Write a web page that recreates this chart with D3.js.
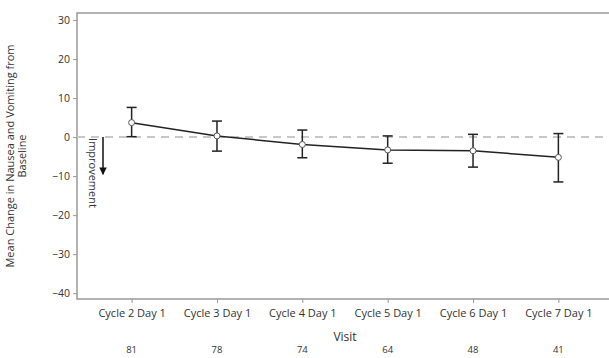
<!DOCTYPE html>
<html>
<head>
<meta charset="utf-8">
<script src="https://cdn.jsdelivr.net/npm/d3@7"></script>
<style>
  html, body { margin: 0; background: #fff; overflow: hidden; }
  text { font-family: 'Open Sans', sans-serif; fill: #333; }
</style>
</head>
<body>
<div class="chart"></div>
<script>
var visits = ['Cycle 2 Day 1', 'Cycle 3 Day 1', 'Cycle 4 Day 1', 'Cycle 5 Day 1', 'Cycle 6 Day 1', 'Cycle 7 Day 1'];
var means = [3.7, 0.3, -1.9, -3.3, -3.5, -5.2];
var upper = [7.6, 4.1, 1.8, 0.3, 0.7, 0.9];
var lower = [0.1, -3.6, -5.3, -6.7, -7.7, -11.5];
var counts = [81, 78, 74, 64, 48, 41];
var yTicks = [30, 20, 10, 0, -10, -20, -30, -40];

var svgWidth = 609;
var svgHeight = 358;
var margin = { top: 13, right: -4, bottom: 59, left: 77 };
var width = svgWidth - margin.left - margin.right;
var height = svgHeight - margin.top - margin.bottom;

var svg = d3.select('.chart')
  .append('svg')
  .attr('width', svgWidth)
  .attr('height', svgHeight)
  .style('display', 'block');

var chart = svg.append('g')
  .attr('transform', 'translate(' + margin.left + ',' + margin.top + ')');

var x = d3.scalePoint().domain(visits).range([0, width]).padding(0.64);
var y = d3.scaleLinear().domain([31.8, -41.5]).range([0, height]);

var data = visits.map(function(v, i) {
  return { visit: v, mean: means[i], hi: upper[i], lo: lower[i], n: counts[i] };
});

// frame (right side runs off the picture)
chart.append('path')
  .attr('d', 'M' + (width + 20) + ',0H0V' + height + 'H' + (width + 20))
  .attr('fill', 'none')
  .attr('stroke', '#999')
  .attr('stroke-width', 1.5);

// zero reference
chart.append('line')
  .attr('x1', 0).attr('x2', width + 20)
  .attr('y1', y(0)).attr('y2', y(0))
  .attr('stroke', '#c8c8c8')
  .attr('stroke-width', 2)
  .attr('stroke-dasharray', '8,6');

var left = d3.axisLeft(y).tickValues(yTicks).tickSize(4).tickPadding(3);
var gy = chart.append('g').call(left);
gy.select('.domain').remove();
gy.selectAll('line').attr('stroke', '#999');
gy.selectAll('text').style('font-size', '10.5px').attr('fill', '#444');

var bottom = d3.axisBottom(x).tickSize(4).tickPadding(6);
var gx = chart.append('g').attr('transform', 'translate(0,' + height + ')').call(bottom);
gx.select('.domain').remove();
gx.selectAll('line').attr('stroke', '#999');
gx.selectAll('text').style('font-size', '11px').attr('fill', '#333');

// counts row
chart.selectAll('.count')
  .data(data)
  .enter()
  .append('text')
  .attr('x', function(d) { return x(d.visit); })
  .attr('y', height + 54)
  .attr('text-anchor', 'middle')
  .style('font-size', '9.5px')
  .text(function(d) { return d.n; });

chart.append('text')
  .attr('x', x('Cycle 4 Day 1') + (x('Cycle 5 Day 1') - x('Cycle 4 Day 1')) / 2)
  .attr('y', height + 42)
  .attr('text-anchor', 'middle')
  .style('font-size', '12px')
  .attr('fill', '#222')
  .text('Visit');

// y title
var yt = svg.append('text')
  .attr('transform', 'translate(0,' + (margin.top + height / 2) + ') rotate(-90)')
  .attr('text-anchor', 'middle')
  .style('font-size', '11px');
yt.append('tspan').attr('x', 0).attr('y', 14).text('Mean Change in Nausea and Vomiting from');
yt.append('tspan').attr('x', 0).attr('y', 26).text('Baseline');

// error bars
var cap = 5;
var bars = chart.selectAll('.err')
  .data(data)
  .enter()
  .append('g')
  .attr('stroke', '#222')
  .attr('stroke-width', 1.5);
bars.append('line')
  .attr('x1', function(d) { return x(d.visit); })
  .attr('x2', function(d) { return x(d.visit); })
  .attr('y1', function(d) { return y(d.hi); })
  .attr('y2', function(d) { return y(d.lo); });
bars.append('line')
  .attr('x1', function(d) { return x(d.visit) - cap; })
  .attr('x2', function(d) { return x(d.visit) + cap; })
  .attr('y1', function(d) { return y(d.hi); })
  .attr('y2', function(d) { return y(d.hi); });
bars.append('line')
  .attr('x1', function(d) { return x(d.visit) - cap; })
  .attr('x2', function(d) { return x(d.visit) + cap; })
  .attr('y1', function(d) { return y(d.lo); })
  .attr('y2', function(d) { return y(d.lo); });

// mean line
var line = d3.line()
  .x(function(d) { return x(d.visit); })
  .y(function(d) { return y(d.mean); });
chart.append('path')
  .datum(data)
  .attr('d', line)
  .attr('fill', 'none')
  .attr('stroke', '#222')
  .attr('stroke-width', 1.5);

chart.selectAll('.pt')
  .data(data)
  .enter()
  .append('circle')
  .attr('cx', function(d) { return x(d.visit); })
  .attr('cy', function(d) { return y(d.mean); })
  .attr('r', 3)
  .attr('fill', '#fff')
  .attr('stroke', '#555')
  .attr('stroke-width', 1);

// improvement arrow
var defs = svg.append('defs');
defs.append('marker')
  .attr('id', 'head')
  .attr('viewBox', '0 0 10 10')
  .attr('refX', 9).attr('refY', 5)
  .attr('markerWidth', 5).attr('markerHeight', 5)
  .attr('orient', 'auto')
  .append('path')
  .attr('d', 'M0,0 L10,5 L0,10 Z')
  .attr('fill', '#111');

chart.append('line')
  .attr('x1', 26).attr('x2', 26)
  .attr('y1', y(0)).attr('y2', y(-9.5))
  .attr('stroke', '#111')
  .attr('stroke-width', 1.5)
  .attr('marker-end', 'url(#head)');

chart.append('text')
  .attr('transform', 'translate(12,' + (y(0) + 1) + ') rotate(90)')
  .attr('text-anchor', 'start')
  .style('font-size', '11px')
  .attr('fill', '#222')
  .text('Improvement');
</script>
</body>
</html>
